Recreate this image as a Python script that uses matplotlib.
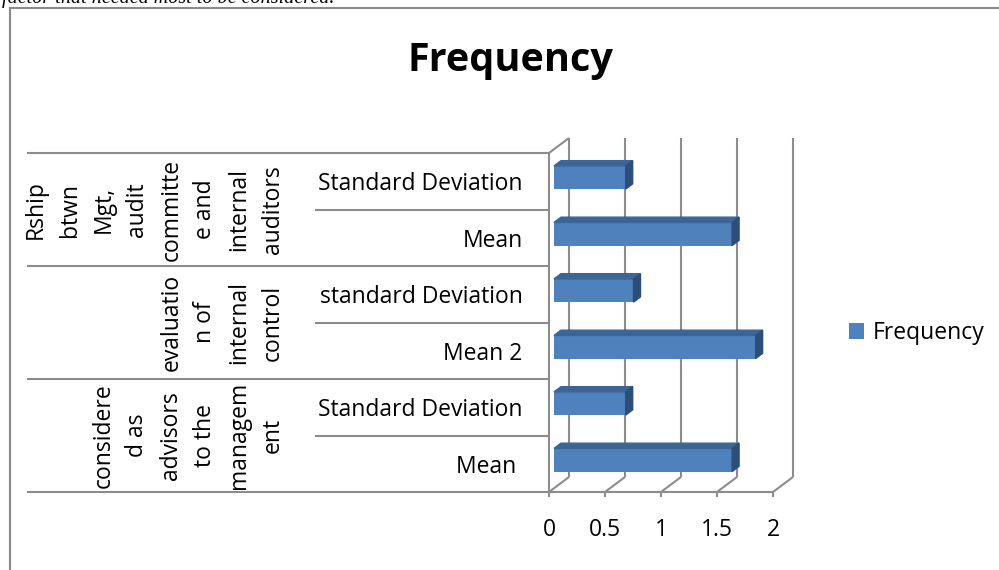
import matplotlib.pyplot as plt
from matplotlib.patches import Polygon
from matplotlib.lines import Line2D
import numpy as np

plt.rcParams['font.family'] = ['Open Sans', 'DejaVu Sans']

# categories from bottom to top
categories = ['Mean ', 'Standard Deviation', 'Mean 2', 'standard Deviation', 'Mean', 'Standard Deviation']
values = [1.59, 0.64, 1.80, 0.71, 1.59, 0.64]
groups = ['considere\nd as\nadvisors\nto the\nmanagem\nent',
          'evaluatio\nn of\ninternal\ncontrol',
          'Rship\nbtwn\nMgt,\naudit\ncommitte\ne and\ninternal\nauditors']
xticks = [0, 0.5, 1, 1.5, 2]
series_name = 'Frequency'

face = '#4F81BD'
top_c = '#3C6596'
side_c = '#2D4E78'
grid = '#8C8C8C'
fs = 16.5

W, H = 999, 570
fig = plt.figure(figsize=(W / 100, H / 100), dpi=100)

# chart area border (left and top visible)
fig.add_artist(Line2D([10 / W, 10 / W], [0, 1 - 8 / H], color='#8a8a8a', lw=1.5))
fig.add_artist(Line2D([10 / W, 1], [1 - 8 / H, 1 - 8 / H], color='#8a8a8a', lw=1.5))
# caption of the page above the chart, cut by the crop
fig.text(2 / W, 1 - 3 / H, 'factor that needed most to be considered.', family='Liberation Serif',
         style='italic', fontsize=14.5, va='baseline', ha='left')

# front plane of the plot
ax = fig.add_axes([549 / W, 78 / H, 224 / W, 339 / H])
ax.set_xlim(0, 2)
ax.set_ylim(0, 6)
for s in ax.spines.values():
    s.set_visible(False)
ax.patch.set_visible(False)

ox = 20 / 112    # depth offset in x data units
oy = 15 / 56.5   # depth offset in y data units
f, b = 0.25, 0.6  # bar depth start / end
bh = 0.41

kw = dict(color=grid, lw=1.5, clip_on=False, solid_capstyle='butt', zorder=1)
# back wall grid lines
for t in xticks:
    ax.plot([t + ox, t + ox], [oy, 6 + oy], **kw)
    ax.plot([t, t + ox], [0, oy], **kw)
# left wall
ax.plot([0, 0], [0, 6], **kw)
ax.plot([0, ox], [6, 6 + oy], **kw)
# floor front edge
ax.plot([0, 2], [0, 0], **kw)

# category separators
for yb in [0, 2, 4, 6]:
    ax.plot([(27 - 549) / 112, 0], [yb, yb], **kw)
for yb in [1, 3, 5]:
    ax.plot([(315 - 549) / 112, 0], [yb, yb], **kw)

# bars
yc = np.arange(len(values)) + 0.5
bars = ax.barh(yc + f * oy, values, left=f * ox, height=bh, color=face, zorder=3,
               label=series_name, clip_on=False)
for y, v in zip(yc, values):
    x0, x1 = f * ox, v + f * ox
    yt, yb_ = y + f * oy + bh / 2, y + f * oy - bh / 2
    d = (b - f)
    ax.add_patch(Polygon([(x0, yt), (x1, yt), (x1 + d * ox, yt + d * oy), (x0 + d * ox, yt + d * oy)],
                         closed=True, color=top_c, zorder=3, clip_on=False))
    ax.add_patch(Polygon([(x1, yb_), (x1, yt), (x1 + d * ox, yt + d * oy), (x1 + d * ox, yb_ + d * oy)],
                         closed=True, color=side_c, zorder=3, clip_on=False))

ax.set_yticks(yc)
ax.set_yticklabels(categories, fontsize=fs)
ax.tick_params(axis='y', length=0, pad=19)
ax.set_xticks(xticks)
ax.set_xticklabels(['0', '0.5', '1', '1.5', '2'], fontsize=fs)
ax.tick_params(axis='x', length=3.6, width=1.5, color=grid, pad=15)

for i, g in enumerate(groups):
    ax.text((285 - 549) / 112, 2 * i + 1, g, rotation=90, ha='right', va='center',
            multialignment='center', fontsize=fs, linespacing=1.55)

fig.text(510 / W, 1 - 61 / H, 'Frequency', fontsize=28.5, fontweight='bold', ha='center', va='center')

fig.legend(handles=[bars], loc='center left', bbox_to_anchor=(849 / W, 1 - 333 / H), frameon=False,
           fontsize=fs, handlelength=0.65, handleheight=0.65, handletextpad=0.4,
           borderpad=0, borderaxespad=0)

fig.savefig('out.png', dpi=100)
